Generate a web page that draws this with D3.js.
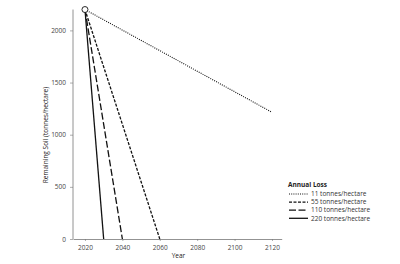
<!DOCTYPE html>
<html>
<head>
<meta charset="utf-8">
<script src="https://cdn.jsdelivr.net/npm/d3@7"></script>
<style>
  body { margin: 0; background: #fff; }
  text { font-family: "Open Sans", sans-serif; }
</style>
</head>
<body>
<svg id="chart"></svg>
<script>
var width = 400, height = 264

// data
var startYear = 2020, startSoil = 2200
var lossLabels = ["11 tonnes/hectare", "55 tonnes/hectare", "110 tonnes/hectare", "220 tonnes/hectare"]
var endYears = [2120, 2060, 2040, 2030]
var endSoil = [1215, 0, 0, 0]
var dashes = ["1,1.2", "3,1.5", "7,2.5", null]
var xTicks = [2020, 2040, 2060, 2080, 2100, 2120]
var yTicks = [0, 500, 1000, 1500, 2000]

var svg = d3.select("#chart")
    .attr("width", width)
    .attr("height", height)

var x = d3.scaleLinear()
    .domain([2013.6, 2125.2])
    .range([73, 281.7])

var y = d3.scaleLinear()
    .domain([0, 2000])
    .range([239, 30.4])

var grey = "#777"

var xAxis = svg.append("g")
    .attr("transform", "translate(0," + 239 + ")")
    .call(d3.axisBottom(x).tickValues(xTicks).tickFormat(d3.format("d")).tickSize(2).tickPadding(4).tickSizeOuter(0))
var yAxis = svg.append("g")
    .attr("transform", "translate(73,0)")
    .call(d3.axisLeft(y).tickValues(yTicks).tickFormat(d3.format("d")).tickSize(3).tickPadding(4).tickSizeOuter(0))

svg.selectAll(".domain").attr("stroke", grey).attr("stroke-width", 0.8)
svg.selectAll(".tick line").attr("stroke", grey).attr("stroke-width", 0.6)
svg.selectAll(".tick text")
    .attr("fill", "#444")
    .style("font-size", "6.5px")

// y axis domain only goes up to the top of the chart
yAxis.select(".domain").attr("d", "M0," + y(2200) + "V239")

svg.append("text")
    .attr("x", x(2070))
    .attr("y", 258)
    .attr("text-anchor", "middle")
    .style("font-size", "6.5px")
    .attr("fill", "#222")
    .text("Year")

svg.append("text")
    .attr("transform", "translate(48," + 135 + ") rotate(-90)")
    .attr("text-anchor", "middle")
    .style("font-size", "6.5px")
    .attr("fill", "#222")
    .text("Remaining Soil (tonnes/hectare)")

var line = d3.line()
    .x(d => x(d[0]))
    .y(d => y(d[1]))

lossLabels.forEach(function (lab, i) {
    svg.append("path")
        .datum([[startYear, startSoil], [endYears[i], endSoil[i]]])
        .attr("d", line)
        .attr("fill", "none")
        .attr("stroke", "#111")
        .attr("stroke-width", i == 0 ? 1.1 : 1.3)
        .attr("stroke-dasharray", dashes[i])
})

svg.append("circle")
    .attr("cx", x(startYear))
    .attr("cy", y(startSoil))
    .attr("r", 3)
    .attr("fill", "#fff")
    .attr("stroke", "#111")
    .attr("stroke-width", 0.9)

// legend
var legend = svg.append("g")
    .attr("transform", "translate(288,0)")

legend.append("text")
    .attr("x", 0)
    .attr("y", 187)
    .style("font-size", "6.5px")
    .style("font-weight", "bold")
    .attr("fill", "#222")
    .text("Annual Loss")

lossLabels.forEach(function (lab, i) {
    var ly = 194 + i * 8.1
    legend.append("line")
        .attr("x1", 1).attr("x2", 20)
        .attr("y1", ly).attr("y2", ly)
        .attr("stroke", "#111")
        .attr("stroke-width", i == 0 ? 1.1 : 1.3)
        .attr("stroke-dasharray", dashes[i])
    legend.append("text")
        .attr("x", 23)
        .attr("y", ly + 2.2)
        .style("font-size", "6.5px")
        .attr("fill", "#333")
        .text(lab)
})
</script>
</body>
</html>
